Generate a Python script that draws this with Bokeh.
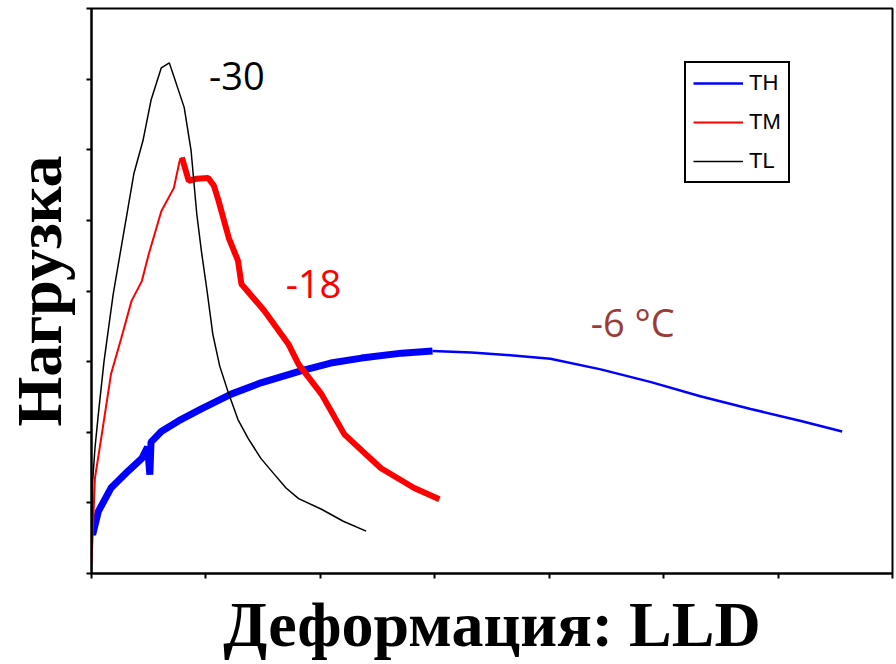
from bokeh.plotting import figure
from bokeh.models import Range1d, FixedTicker, Label, Legend, LegendItem
from bokeh.embed import file_html
from bokeh.resources import INLINE

# TL (-30)
tl_x = [0.00, 0.01, 0.03, 0.06, 0.11, 0.19, 0.28, 0.37, 0.45, 0.52, 0.61, 0.68, 0.74, 0.81, 0.87,
        0.92, 0.96, 1.01, 1.06, 1.12, 1.20, 1.28, 1.37, 1.48, 1.60, 1.70, 1.81, 2.01, 2.20, 2.40]
tl_y = [0.03, 1.30, 1.77, 2.26, 3.01, 3.96, 4.81, 5.66, 6.13, 6.70, 7.16, 7.23, 6.94, 6.60, 5.99,
        5.09, 4.57, 4.00, 3.39, 2.94, 2.54, 2.18, 1.91, 1.63, 1.40, 1.21, 1.06, 0.91, 0.74, 0.60]

# TM (-18): rising part, then falling part
tm_rise_x = [0.00, 0.03, 0.09, 0.17, 0.26, 0.35, 0.44, 0.50, 0.61, 0.72, 0.77, 0.79]
tm_rise_y = [0.15, 1.35, 1.97, 2.82, 3.33, 3.86, 4.14, 4.52, 5.13, 5.46, 5.84, 5.89]
tm_fall_x = [0.79, 0.85, 0.92, 1.02, 1.07, 1.11, 1.20, 1.28, 1.31, 1.51, 1.72, 1.81, 2.01, 2.21,
             2.53, 2.82, 3.04]
tm_fall_y = [5.89, 5.56, 5.59, 5.60, 5.49, 5.28, 4.75, 4.43, 4.10, 3.72, 3.25, 2.96, 2.54, 1.97,
             1.49, 1.21, 1.05]

# TH (-6 °C): noisy part, then smooth tail
th_a_x = [0.00, 0.01, 0.06, 0.17, 0.32, 0.44, 0.49, 0.51, 0.52, 0.61, 0.76, 0.96, 1.22, 1.48,
          1.83, 2.09, 2.36, 2.71, 2.98]
th_a_y = [0.60, 0.55, 0.88, 1.21, 1.45, 1.63, 1.79, 1.40, 1.86, 2.01, 2.16, 2.33, 2.54, 2.70,
          2.87, 2.98, 3.05, 3.12, 3.15]
th_b_x = [2.98, 3.32, 3.66, 4.01, 4.45, 4.89, 5.32, 5.76, 6.20, 6.56]
th_b_y = [3.15, 3.13, 3.09, 3.04, 2.89, 2.71, 2.51, 2.33, 2.16, 2.01]

ticks_x = [0, 1, 2, 3, 4, 5, 6, 7]
ticks_y = [0, 1, 2, 3, 4, 5, 6, 7, 8]

ann_text = ["-30", "-18", "-6 °C"]
ann_x = [1.27, 1.94, 4.73]
ann_y = [7.05, 4.10, 3.56]
ann_color = ["black", "red", "#9b3b38"]

p = figure(width=894, height=664, x_range=Range1d(0, 7), y_range=Range1d(0, 8),
           output_backend="svg", toolbar_location=None,
           min_border_left=90, min_border_right=2, min_border_top=8, min_border_bottom=91)
p.grid.visible = False
p.outline_line_color = "black"
p.outline_line_width = 2
p.background_fill_color = "white"
p.border_fill_color = "white"

for ax, tk in ((p.xaxis[0], ticks_x), (p.yaxis[0], ticks_y)):
    ax.ticker = FixedTicker(ticks=tk, minor_ticks=[])
    ax.major_tick_out = 5
    ax.major_tick_in = 0
    ax.minor_tick_out = 0
    ax.minor_tick_in = 0
    ax.major_tick_line_width = 2
    ax.axis_line_width = 2
    ax.major_label_overrides = {t: "" for t in tk}
    ax.major_label_text_font_size = "1px"
    ax.major_label_standoff = 0
    ax.axis_label_text_font = "Liberation Serif"
    ax.axis_label_text_font_style = "bold"
    ax.axis_label_text_font_size = "64px"
    ax.axis_label_text_color = "black"

p.xaxis[0].axis_label = "Деформация: LLD"
p.xaxis[0].axis_label_standoff = 10
p.yaxis[0].axis_label = "Нагрузка"
p.yaxis[0].axis_label_standoff = 12

blue_a = p.line(th_a_x, th_a_y, line_color="blue", line_width=7)
blue_b = p.line(th_b_x, th_b_y, line_color="blue", line_width=2.5)
red_a = p.line(tm_rise_x, tm_rise_y, line_color="red", line_width=2)
red_b = p.line(tm_fall_x, tm_fall_y, line_color="red", line_width=6)
black = p.line(tl_x, tl_y, line_color="black", line_width=1.5)

for t, x, y, c in zip(ann_text, ann_x, ann_y, ann_color):
    p.add_layout(Label(x=x, y=y, text=t, text_color=c, text_font="Open Sans",
                       text_font_size="38px", text_align="center", text_baseline="middle"))

legend = Legend(items=[LegendItem(label="TH", renderers=[blue_b]),
                       LegendItem(label="TM", renderers=[red_a]),
                       LegendItem(label="TL", renderers=[black])],
                location=(593, 390))
legend.label_text_font = "Liberation Sans"
legend.label_text_font_size = "22px"
legend.label_text_color = "black"
legend.glyph_width = 50
legend.glyph_height = 20
legend.label_height = 20
legend.spacing = 13
legend.padding = 7
legend.margin = 0
legend.label_standoff = 6
legend.border_line_color = "black"
legend.border_line_alpha = 1
legend.border_line_width = 2
legend.background_fill_alpha = 1
p.add_layout(legend)

open("out.html", "w").write(file_html(p, INLINE))
